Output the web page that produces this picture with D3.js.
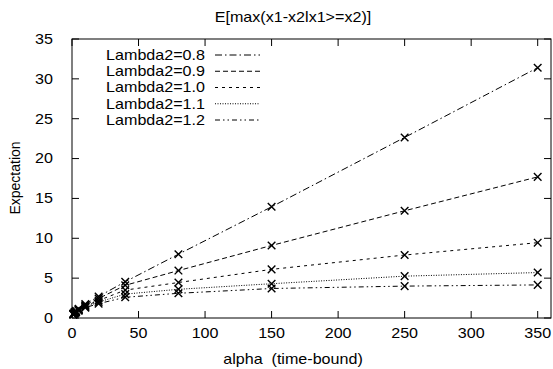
<!DOCTYPE html>
<html>
<head>
<meta charset="utf-8">
<script src="https://cdn.jsdelivr.net/npm/d3@7"></script>
<style>
  body { margin: 0; background: #fff; }
  text { font-family: "Liberation Sans", Arial, sans-serif; font-size: 14px; fill: #000; }
</style>
</head>
<body>
<script>
// chart data
const alphas = [1, 2, 3, 5, 10, 20, 40, 80, 150, 250, 350];
const seriesNames = ["Lambda2=0.8", "Lambda2=0.9", "Lambda2=1.0", "Lambda2=1.1", "Lambda2=1.2"];
const lambda08 = [0.55, 0.75, 0.9, 1.15, 1.75, 2.7, 4.55, 8.0, 13.95, 22.65, 31.4];
const lambda09 = [0.5, 0.7, 0.85, 1.1, 1.6, 2.45, 4.1, 5.95, 9.1, 13.45, 17.7];
const lambda10 = [0.48, 0.65, 0.8, 1.02, 1.5, 2.2, 3.5, 4.45, 6.1, 7.9, 9.45];
const lambda11 = [0.45, 0.62, 0.75, 0.97, 1.4, 2.0, 3.0, 3.6, 4.3, 5.25, 5.7];
const lambda12 = [0.42, 0.58, 0.7, 0.92, 1.3, 1.8, 2.6, 3.1, 3.7, 4.0, 4.15];
const xTicks = [0, 50, 100, 150, 200, 250, 300, 350];
const yTicks = [0, 5, 10, 15, 20, 25, 30, 35];

const allSeries = [lambda08, lambda09, lambda10, lambda11, lambda12];
const dashes = ["7,3,1.5,3", "5,3", "3,4", "1,1.5", "5,3,1.5,3,1.5,3"];

const W = 553, H = 369;
const plotL = 72, plotR = 551, plotT = 39, plotB = 318;

const x = d3.scaleLinear().domain([0, 360]).range([plotL, plotR]);
const y = d3.scaleLinear().domain([0, 35]).range([plotB, plotT]);

const svg = d3.select("body").append("svg")
  .attr("width", W)
  .attr("height", H);

// text is a bit wider than tall in the reference (image was resized)
function label(str, px, py, anchor, rot) {
  const t = svg.append("text")
    .attr("text-anchor", anchor)
    .attr("dy", "0.35em")
    .text(str);
  if (rot) t.attr("transform", `translate(${px},${py}) rotate(-90)`);
  else t.attr("transform", `translate(${px},${py}) scale(1.15,1)`);
  return t;
}

// tick marks, inward on all four sides
const tickLen = 7;
const ticks = svg.append("g").attr("stroke", "#000").attr("stroke-width", 1);
xTicks.forEach(v => {
  ticks.append("line").attr("x1", x(v)).attr("x2", x(v)).attr("y1", plotB).attr("y2", plotB - tickLen);
  ticks.append("line").attr("x1", x(v)).attr("x2", x(v)).attr("y1", plotT).attr("y2", plotT + tickLen);
  label(v, x(v), 333, "middle");
});
yTicks.forEach(v => {
  ticks.append("line").attr("x1", plotL).attr("x2", plotL + tickLen).attr("y1", y(v)).attr("y2", y(v));
  ticks.append("line").attr("x1", plotR).attr("x2", plotR - tickLen).attr("y1", y(v)).attr("y2", y(v));
  label(v, 53, y(v), "end");
});

// border
svg.append("rect")
  .attr("x", plotL).attr("y", plotT)
  .attr("width", plotR - plotL).attr("height", plotB - plotT)
  .attr("fill", "none").attr("stroke", "#000").attr("stroke-width", 1);

// lines and markers
const line = d3.line()
  .x((d, i) => x(alphas[i]))
  .y(d => y(d));

allSeries.forEach((vals, k) => {
  svg.append("path")
    .datum(vals)
    .attr("d", line)
    .attr("fill", "none")
    .attr("stroke", "#000")
    .attr("stroke-width", 1)
    .attr("stroke-dasharray", dashes[k]);

  svg.append("g").selectAll("path")
    .data(vals)
    .enter()
    .append("path")
    .attr("d", (d, i) => {
      const cx = x(alphas[i]), cy = y(d), s = 3.8;
      return `M${cx - s},${cy - s}L${cx + s},${cy + s}M${cx - s},${cy + s}L${cx + s},${cy - s}`;
    })
    .attr("stroke", "#000")
    .attr("stroke-width", 1.4);
});

// legend
seriesNames.forEach((name, k) => {
  const ly = 55 + k * 16.25;
  label(name, 205, ly, "end");
  svg.append("line")
    .attr("x1", 215).attr("x2", 260)
    .attr("y1", ly).attr("y2", ly)
    .attr("stroke", "#000")
    .attr("stroke-width", 1)
    .attr("stroke-dasharray", dashes[k]);
});

// titles
label("E[max(x1-x2lx1>=x2)]", 293, 17, "middle");
label("alpha  (time-bound)", 293, 359, "middle").style("white-space", "pre");
label("Expectation", 15, 178, "middle", true);
</script>
</body>
</html>
